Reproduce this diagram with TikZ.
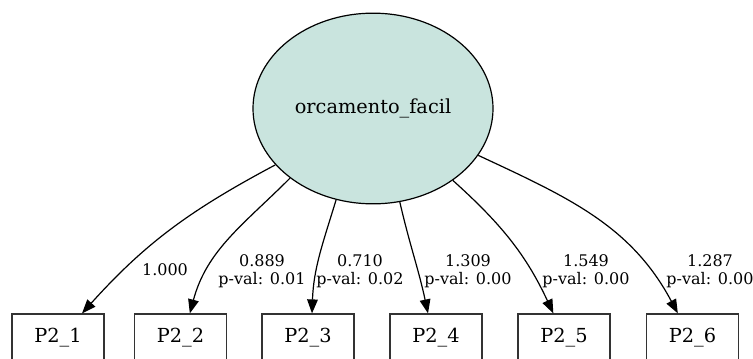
\documentclass[tikz,border=0pt]{standalone}
\usepackage{fontspec}
\setmainfont{DejaVu Serif}
\usetikzlibrary{arrows.meta,shapes.geometric}
\definecolor{latentfill}{RGB}{201,228,222}

\begin{document}
\begin{tikzpicture}
  [x=0.75pt,y=-0.75pt,
  latent/.style={ellipse,draw=black,fill=latentfill,line width=0.9pt,
                inner sep=0pt,minimum width=180pt,minimum height=143pt,
                font=\fontsize{14.5}{17}\selectfont},
  indicator/.style={rectangle,draw=black!80,line width=0.9pt,
                   inner sep=0pt,minimum width=69pt,minimum height=36pt,
                   font=\fontsize{14.5}{17}\selectfont},
  loading/.style={align=center,inner sep=0pt,
                 font=\fontsize{12}{13.5}\selectfont},
  loadpath/.style={draw=black,line width=0.9pt,
                  -{Triangle[length=10.5pt,width=8pt]}}]
  \useasboundingbox (0,0) rectangle (753,358);

  \node[latent]    (lat) at (373,108.5) {orcamento\_facil};
  \node[indicator] (p1)  at (58,338)    {P2\_1};
  \node[indicator] (p2)  at (180.5,338) {P2\_2};
  \node[indicator] (p3)  at (308,338)   {P2\_3};
  \node[indicator] (p4)  at (436,338)   {P2\_4};
  \node[indicator] (p5)  at (564,338)   {P2\_5};
  \node[indicator] (p6)  at (692.5,338) {P2\_6};

  % loadings
  \node[loading] (l1) at (165,270) {1.000};
  \node[loading] (l2) at (262,271) {0.889\\p-val: 0.01};
  \node[loading] (l3) at (360,271) {0.710\\p-val: 0.02};
  \node[loading] (l4) at (468,271) {1.309\\p-val: 0.00};
  \node[loading] (l5) at (586,271) {1.549\\p-val: 0.00};
  \node[loading] (l6) at (710,271) {1.287\\p-val: 0.00};

  \draw [loadpath] (lat.210) to [out=208,in=48]  ([xshift=18pt]p1.north);
  \draw [loadpath] (lat.220) to [out=225,in=75]  ([xshift=7pt]p2.north);
  \draw [loadpath] (lat.248) to [out=253,in=88]  ([xshift=3pt]p3.north);
  \draw [loadpath] (lat.286) to [out=283,in=102] ([xshift=-6pt]p4.north);
  \draw [loadpath] (lat.318) to [out=318,in=115] ([xshift=-8pt]p5.north);
  \draw [loadpath] (lat.336) to [out=335,in=118] ([xshift=-11pt]p6.north);

\end{tikzpicture}
\end{document}
